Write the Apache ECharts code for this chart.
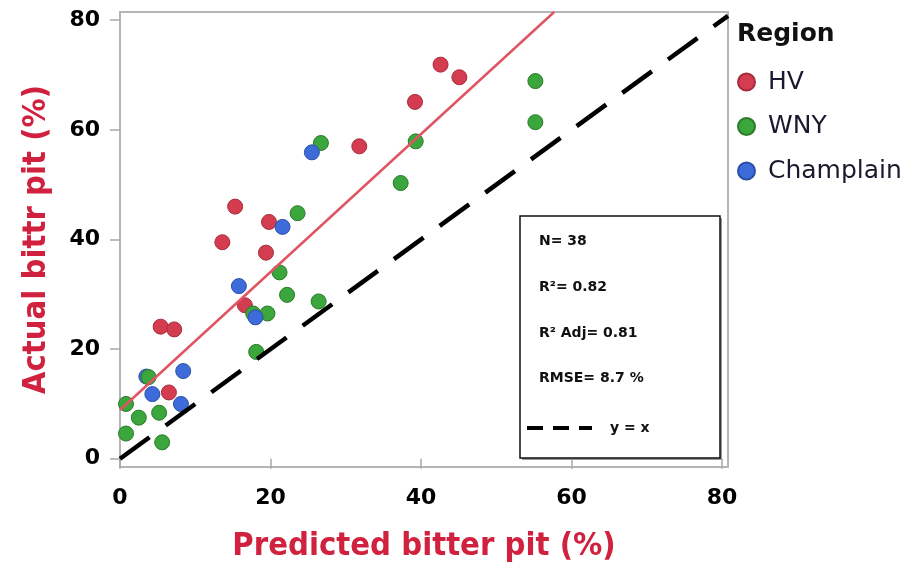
<!DOCTYPE html>
<html>
<head>
<meta charset="utf-8">
<script src="https://cdn.jsdelivr.net/npm/echarts@6/dist/echarts.min.js"></script>
<style>html,body{margin:0;padding:0;background:#fff;}#c{width:913px;height:568px;}</style>
</head>
<body>
<div id="c"></div>
<script>
// ---- data ----
var regions = ['HV', 'WNY', 'Champlain'];
var hvData = [
  [42.6, 71.9], [45.1, 69.6], [39.2, 65.1], [31.8, 57.0], [15.3, 46.0],
  [19.8, 43.2], [13.6, 39.5], [19.4, 37.6], [16.6, 28.0], [5.4, 24.1],
  [7.2, 23.6], [6.5, 12.1]
];
var wnyData = [
  [55.2, 68.9], [55.2, 61.4], [39.3, 57.9], [26.7, 57.6], [37.3, 50.3],
  [23.6, 44.8], [21.2, 34.0], [22.2, 29.9], [26.4, 28.7], [19.6, 26.5],
  [17.7, 26.5], [18.1, 19.5], [0.8, 10.0], [2.5, 7.5], [5.2, 8.4],
  [0.8, 4.6], [5.6, 3.0]
];
var wnyTopData = [[3.8, 14.9]];
var champlainData = [
  [25.5, 55.9], [21.6, 42.3], [15.8, 31.5], [18.0, 25.8], [8.4, 16.0],
  [3.5, 15.0], [4.3, 11.8], [8.1, 10.0]
];
var fitLine = [[0, 8.9], [57.7, 81.5]];
var identityLine = [[0, 0], [80.8, 80.8]];
var tickValues = [0, 20, 40, 60, 80];
var statsLines = ['N= 38', 'R\u00b2= 0.82', 'R\u00b2 Adj= 0.81', 'RMSE= 8.7 %'];

var colors = { HV: '#d43d50', WNY: '#3ba63c', Champlain: '#3d6cda' };
var borders = { HV: '#a62c3b', WNY: '#2a7a2b', Champlain: '#2c4fa6' };

function scatter(name, data, z) {
  return {
    name: name, type: 'scatter', data: data, symbolSize: 15, z: z,
    itemStyle: { color: colors[name], borderColor: borders[name], borderWidth: 1, opacity: 1 }
  };
}

var chart = echarts.init(document.getElementById('c'), null, { renderer: 'canvas' });
var axisFont = 'DejaVu Sans';
var titleFont = 'DejaVu Sans Condensed';

var graphics = [
  { type: 'rect', shape: { x: 522, y: 218, width: 200, height: 242 },
    style: { fill: '#999', stroke: null }, z: 100 },
  { type: 'rect', shape: { x: 520, y: 216, width: 200, height: 242 },
    style: { fill: '#fff', stroke: '#111', lineWidth: 1.5 }, z: 101 },
  { type: 'line', shape: { x1: 527, y1: 428, x2: 592, y2: 428 },
    style: { stroke: '#000', lineWidth: 4, lineDash: [16, 10] }, z: 102 },
  { type: 'text', x: 610, y: 428,
    style: { text: 'y = x', font: 'bold 14px "DejaVu Sans"', fill: '#111', verticalAlign: 'middle' }, z: 102 }
];
var ys = [241, 287, 333, 378];
statsLines.forEach(function (t, i) {
  graphics.push({ type: 'text', x: 539, y: ys[i],
    style: { text: t, font: 'bold 14px "DejaVu Sans"', fill: '#111', verticalAlign: 'middle' }, z: 102 });
});

chart.setOption({
  animation: false,
  backgroundColor: '#fff',
  title: {
    text: 'Region', left: 737, top: 22, padding: 0,
    textStyle: { fontSize: 25, fontWeight: 'bold', fontFamily: axisFont, color: '#111' }
  },
  legend: {
    orient: 'vertical', left: 732, top: 64, icon: 'circle',
    itemWidth: 17, itemHeight: 17, itemGap: 18.5,
    data: regions,
    textStyle: { fontSize: 25, fontFamily: axisFont, color: '#1a1a2e', lineHeight: 26, padding: [0, 0, 0, 8] }
  },
  grid: {
    left: 120, right: 185, top: 12, bottom: 101,
    show: true, borderColor: '#b5b5b5', borderWidth: 2, backgroundColor: '#fff'
  },
  xAxis: {
    type: 'value', min: 0, max: 80.8,
    name: 'Predicted bitter pit (%)', nameLocation: 'middle', nameGap: 63,
    nameTextStyle: { fontSize: 32.5, fontWeight: 'bold', fontFamily: titleFont, color: '#d0213e' },
    axisLine: { show: false },
    splitLine: { show: false },
    axisTick: { show: true, length: 10, inside: false, customValues: tickValues,
      lineStyle: { color: '#a8a8a8', width: 1.5 } },
    axisLabel: { customValues: tickValues, margin: 20, fontSize: 22, fontWeight: 'bold',
      fontFamily: axisFont, color: '#000' }
  },
  yAxis: {
    type: 'value', min: -1.5, max: 81.5,
    name: 'Actual bittr pit (%)', nameLocation: 'middle', nameGap: 67,
    nameTextStyle: { fontSize: 32.5, fontWeight: 'bold', fontFamily: titleFont, color: '#d0213e' },
    axisLine: { show: false },
    splitLine: { show: false },
    axisTick: { show: true, length: 10, inside: false, customValues: tickValues,
      lineStyle: { color: '#a8a8a8', width: 1.5 } },
    axisLabel: { customValues: tickValues, margin: 20, fontSize: 22, fontWeight: 'bold',
      fontFamily: axisFont, color: '#000' }
  },
  series: [
    scatter('HV', hvData, 2),
    scatter('WNY', wnyData, 2),
    scatter('Champlain', champlainData, 2),
    scatter('WNY', wnyTopData, 3),
    { name: 'fit', type: 'line', data: fitLine, symbol: 'none', clip: true, z: 4,
      lineStyle: { color: '#e05463', width: 2.5 }, silent: true },
    { name: 'y = x', type: 'line', data: identityLine, symbol: 'none', clip: true, z: 5,
      lineStyle: { color: '#000', width: 4.5, type: [36.5, 20] }, silent: true }
  ],
  graphic: graphics
});
</script>
</body>
</html>
